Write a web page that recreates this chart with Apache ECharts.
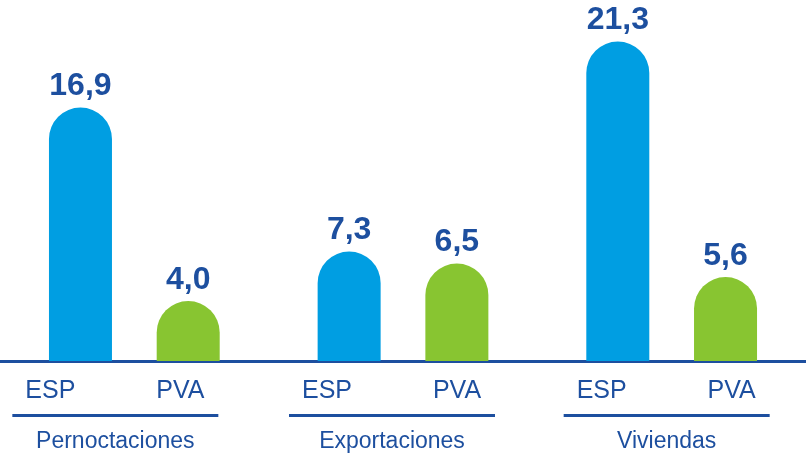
<!DOCTYPE html>
<html>
<head>
<meta charset="utf-8">
<script src="https://cdn.jsdelivr.net/npm/echarts@6/dist/echarts.min.js"></script>
<style>
  html, body { margin: 0; padding: 0; background: #fff; }
  #main { width: 806px; height: 456px; }
</style>
</head>
<body>
<div id="main"></div>
<script>
// groups shown on the x axis
const groups = ['Pernoctaciones', 'Exportaciones', 'Viviendas'];
// series values
const espData = [16.9, 7.3, 21.3];
const pvaData = [4.0, 6.5, 5.6];
// small left shift of each group's labels, as in the original
const labelShift = [38, 22, 10];

const blue = '#009ee2';
const green = '#88c531';
const navy = '#1d4f9f';

const myChart = echarts.init(document.getElementById('main'));

const fmt = (v) => v.toFixed(1).replace('.', ',');

const valueLabel = {
  show: true,
  position: 'top',
  distance: 5,
  formatter: (p) => fmt(p.value),
  fontSize: 32,
  fontWeight: 'bold',
  color: navy,
  fontFamily: 'Liberation Sans',
};

const option = {
  animation: false,
  grid: {
    left: 0,
    right: 0,
    top: 1,
    bottom: 95,
    outerBoundsMode: 'none',
    containLabel: false,
  },
  xAxis: {
    type: 'category',
    data: groups.map((g, i) => ({
      value: g,
      textStyle: { padding: [0, labelShift[i], 0, 0] },
    })),
    axisLine: { lineStyle: { color: navy, width: 3 } },
    axisTick: { show: false },
    axisLabel: {
      interval: 0,
      margin: 15,
      hideOverlap: false,
      formatter: (v) => '{e|ESP}{p|PVA}\n{u| }\n{g|' + v + '}',
      rich: {
        e: { width: 130, align: 'center', fontSize: 25, lineHeight: 30, color: navy, fontFamily: 'Liberation Sans' },
        p: { width: 130, align: 'center', fontSize: 25, lineHeight: 30, color: navy, fontFamily: 'Liberation Sans' },
        u: { width: 206, height: 3, lineHeight: 19, fontSize: 2, backgroundColor: navy },
        g: { fontSize: 23, lineHeight: 34, color: navy, fontFamily: 'Liberation Sans' },
      },
    },
  },
  yAxis: {
    type: 'value',
    min: 0,
    max: 24,
    show: false,
    splitLine: { show: false },
  },
  series: [
    {
      name: 'ESP',
      type: 'bar',
      data: espData,
      barWidth: 63,
      barGap: '71%',
      itemStyle: { color: blue, borderRadius: [32, 32, 0, 0] },
      label: valueLabel,
    },
    {
      name: 'PVA',
      type: 'bar',
      data: pvaData,
      barWidth: 63,
      itemStyle: { color: green, borderRadius: [32, 32, 0, 0] },
      label: valueLabel,
    },
  ],
};

myChart.setOption(option);
</script>
</body>
</html>
